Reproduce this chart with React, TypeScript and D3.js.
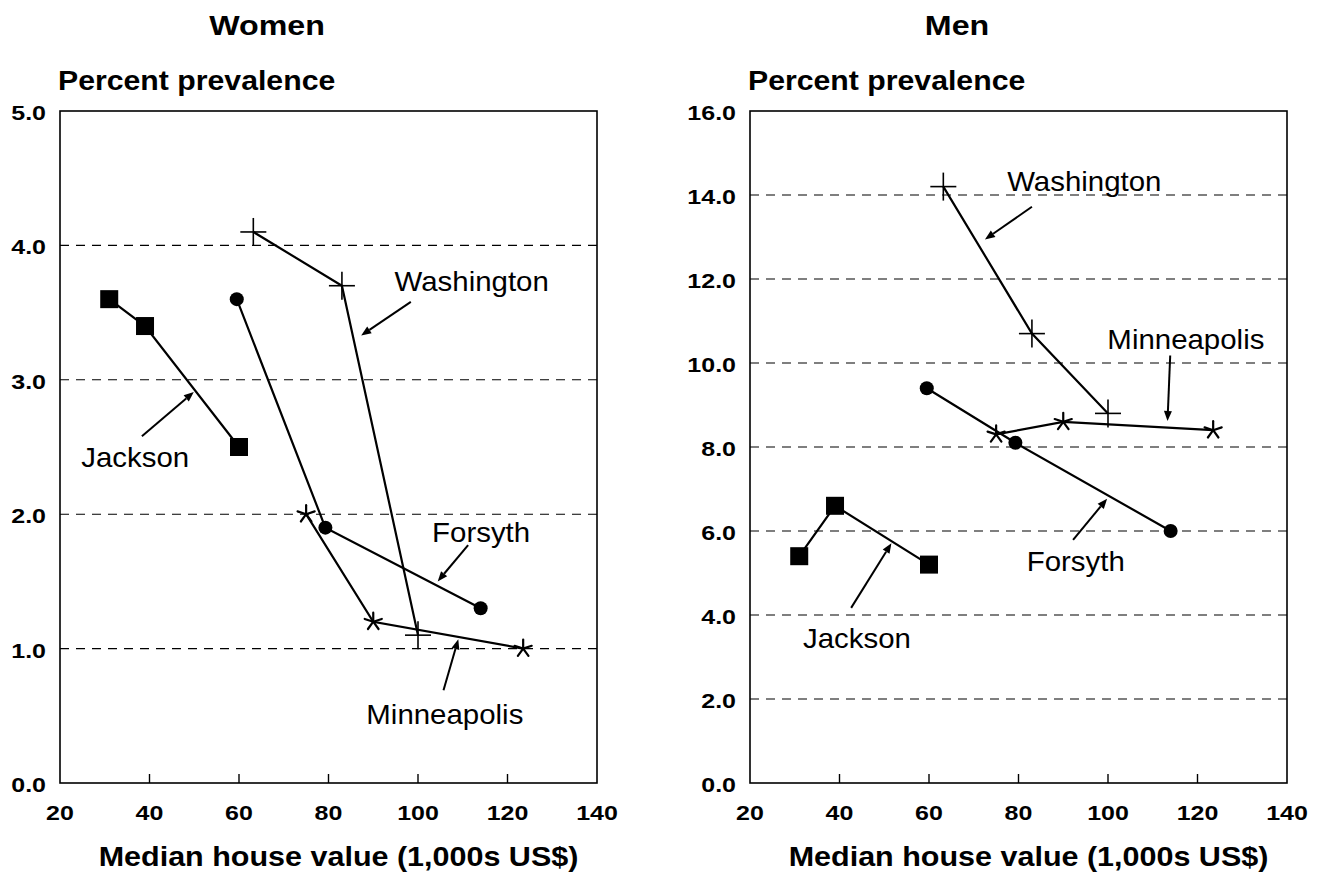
import React from "react";
import * as d3 from "d3";

// ---- Data ----
const xTicks = [20, 40, 60, 80, 100, 120, 140];
const womenYTicks = [0, 1, 2, 3, 4, 5];
const menYTicks = [0, 2, 4, 6, 8, 10, 12, 14, 16];

const jacksonX = [31, 39, 60];
const forsythX = [59.5, 79.3, 114];
const washingtonX = [63.2, 83, 100];
const minneapolisX = [75, 90, 123.5];

const womenJackson = [3.6, 3.4, 2.5];
const womenForsyth = [3.6, 1.9, 1.3];
const womenWashington = [4.1, 3.7, 1.1];
const womenMinneapolis = [2.0, 1.2, 1.0];

const menJackson = [5.4, 6.6, 5.2];
const menForsyth = [9.4, 8.1, 6.0];
const menWashington = [14.2, 10.7, 8.8];
const menMinneapolis = [8.3, 8.6, 8.4];

// annotation: label, text position (data units), arrow tail & head (data units)
type Note = { label: string; tx: number; ty: number; x1: number; y1: number; x2: number; y2: number };
const womenNotes: Note[] = [
  { label: "Washington", tx: 112, ty: 3.73, x1: 98.4, y1: 3.58, x2: 87.3, y2: 3.33 },
  { label: "Jackson", tx: 36.8, ty: 2.42, x1: 38.3, y1: 2.58, x2: 49.9, y2: 2.91 },
  { label: "Forsyth", tx: 114.1, ty: 1.86, x1: 111.2, y1: 1.77, x2: 104.4, y2: 1.5 },
  { label: "Minneapolis", tx: 106, ty: 0.51, x1: 105.7, y1: 0.69, x2: 109, y2: 1.07 },
];
const menNotes: Note[] = [
  { label: "Washington", tx: 94.7, ty: 14.32, x1: 83.0, y1: 13.72, x2: 72.5, y2: 12.94 },
  { label: "Minneapolis", tx: 117.4, ty: 10.57, x1: 113.9, y1: 10.18, x2: 113.3, y2: 8.62 },
  { label: "Forsyth", tx: 92.8, ty: 5.27, x1: 92.2, y1: 5.79, x2: 99.8, y2: 6.77 },
  { label: "Jackson", tx: 43.9, ty: 3.45, x1: 42.6, y1: 4.17, x2: 51.6, y2: 5.71 },
];

type Series = { xs: number[]; ys: number[]; marker: "square" | "circle" | "plus" | "star" };

const FONT = "'Liberation Sans', Arial, Helvetica, sans-serif";

function T({
  x,
  y,
  size,
  sx = 1,
  bold = false,
  anchor = "start",
  dy = "0",
  children,
}: {
  x: number;
  y: number;
  size: number;
  sx?: number;
  bold?: boolean;
  anchor?: string;
  dy?: string;
  children: React.ReactNode;
}) {
  return (
    <text
      transform={`translate(${x},${y}) scale(${sx},1)`}
      dy={dy}
      textAnchor={anchor as any}
      fontFamily={FONT}
      fontWeight={bold ? "bold" : "normal"}
      fontSize={size}
      fill="#000"
    >
      {children}
    </text>
  );
}

function Marker({ kind, x, y }: { kind: string; x: number; y: number }) {
  if (kind === "square") return <rect x={x - 9} y={y - 9} width={18} height={18} fill="#000" />;
  if (kind === "circle") return <circle cx={x} cy={y} r={7} fill="#000" />;
  if (kind === "plus")
    return (
      <g stroke="#000" strokeWidth={1.6}>
        <line x1={x - 13} x2={x + 13} y1={y} y2={y} />
        <line x1={x} x2={x} y1={y - 14} y2={y + 14} />
      </g>
    );
  const arms = d3.range(5).map((i) => {
    const a = -Math.PI / 2 + (i * 2 * Math.PI) / 5;
    return [x + 9 * Math.cos(a), y + 9 * Math.sin(a)];
  });
  return (
    <g stroke="#000" strokeWidth={2.2} strokeLinecap="round">
      {arms.map((p, i) => (
        <line key={i} x1={x} y1={y} x2={p[0]} y2={p[1]} />
      ))}
    </g>
  );
}

function Panel({
  left,
  right,
  title,
  yMax,
  yTicks,
  series,
  notes,
}: {
  left: number;
  right: number;
  title: string;
  yMax: number;
  yTicks: number[];
  series: Series[];
  notes: Note[];
}) {
  const top = 111;
  const bottom = 783;
  const x = d3.scaleLinear().domain([20, 140]).range([left, right]);
  const y = d3.scaleLinear().domain([0, yMax]).range([bottom, top]);
  const line = d3
    .line<[number, number]>()
    .x((d) => x(d[0]))
    .y((d) => y(d[1]));
  const cx = (left + right) / 2;
  return (
    <g>
      <T x={left + 207} y={35} size={28} sx={1.15} bold anchor="middle">
        {title}
      </T>
      <T x={left - 2} y={90} size={27} sx={1.12} bold>
        Percent prevalence
      </T>
      {yTicks
        .filter((t) => t > 0 && t < yMax)
        .map((t) => (
          <line key={t} x1={left} x2={right} y1={y(t)} y2={y(t)} stroke="#000" strokeWidth={1.1} strokeDasharray="9,7" />
        ))}
      <rect x={left} y={top} width={right - left} height={bottom - top} fill="none" stroke="#000" strokeWidth={1.6} />
      {xTicks
        .filter((t) => t > 20 && t < 140)
        .map((t) => (
          <line key={t} x1={x(t)} x2={x(t)} y1={bottom} y2={bottom - 9} stroke="#000" strokeWidth={1.4} />
        ))}
      {yTicks.map((t) => (
        <T key={t} x={left - 14} y={y(t) + 2} dy="0.35em" size={20} sx={1.25} bold anchor="end">
          {t.toFixed(1)}
        </T>
      ))}
      {xTicks.map((t) => (
        <T key={t} x={x(t)} y={820} size={20} sx={1.25} bold anchor="middle">
          {t}
        </T>
      ))}
      <T x={cx + 10} y={866} size={28} sx={1.09} bold anchor="middle">
        Median house value (1,000s US$)
      </T>
      {series.map((s, i) => {
        const pts = s.xs.map((v, j) => [v, s.ys[j]] as [number, number]);
        return (
          <g key={i}>
            <path d={line(pts) || ""} fill="none" stroke="#000" strokeWidth={2.2} />
            {pts.map((p, j) => (
              <Marker key={j} kind={s.marker} x={x(p[0])} y={y(p[1])} />
            ))}
          </g>
        );
      })}
      {notes.map((n, i) => {
        const x1 = x(n.x1), y1 = y(n.y1), x2 = x(n.x2), y2 = y(n.y2);
        const ang = Math.atan2(y2 - y1, x2 - x1);
        const L = 10, W = 4;
        const bx = x2 - L * Math.cos(ang), by = y2 - L * Math.sin(ang);
        const head = `M${x2},${y2} L${bx + W * Math.sin(ang)},${by - W * Math.cos(ang)} L${bx - W * Math.sin(ang)},${by + W * Math.cos(ang)} Z`;
        return (
          <g key={i}>
            <line x1={x1} y1={y1} x2={bx} y2={by} stroke="#000" strokeWidth={2} />
            <path d={head} fill="#000" />
            <T x={x(n.tx)} y={y(n.ty)} dy="0.35em" size={27} sx={1.09} anchor="middle">
              {n.label}
            </T>
          </g>
        );
      })}
    </g>
  );
}

export default function App() {
  const womenSeries: Series[] = [
    { xs: jacksonX, ys: womenJackson, marker: "square" },
    { xs: forsythX, ys: womenForsyth, marker: "circle" },
    { xs: washingtonX, ys: womenWashington, marker: "plus" },
    { xs: minneapolisX, ys: womenMinneapolis, marker: "star" },
  ];
  const menSeries: Series[] = [
    { xs: jacksonX, ys: menJackson, marker: "square" },
    { xs: forsythX, ys: menForsyth, marker: "circle" },
    { xs: washingtonX, ys: menWashington, marker: "plus" },
    { xs: minneapolisX, ys: menMinneapolis, marker: "star" },
  ];
  return (
    <svg width={1324} height={872} style={{ position: "absolute", left: 0, top: 0, background: "#fff" }}>
      <rect width={1324} height={872} fill="#fff" />
      <Panel left={60} right={597} title="Women" yMax={5} yTicks={womenYTicks} series={womenSeries} notes={womenNotes} />
      <Panel left={750} right={1287} title="Men" yMax={16} yTicks={menYTicks} series={menSeries} notes={menNotes} />
    </svg>
  );
}
